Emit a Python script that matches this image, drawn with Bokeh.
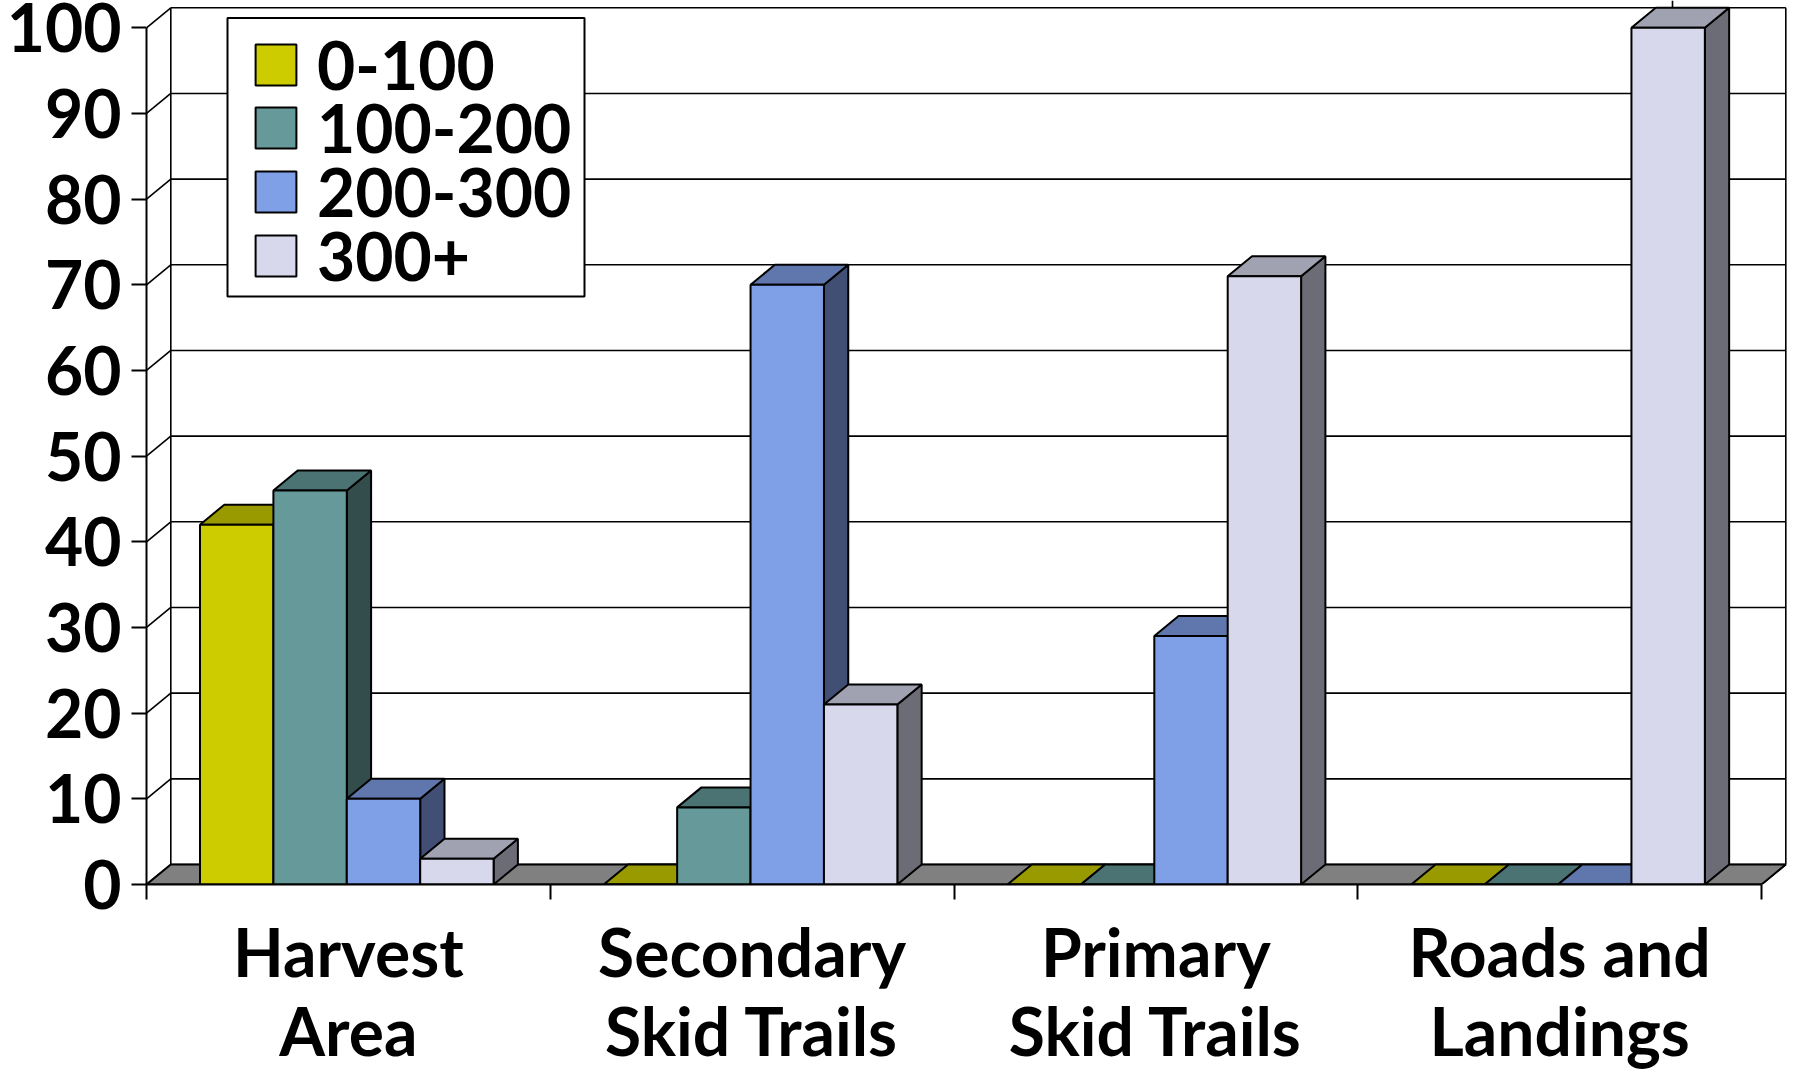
from bokeh.plotting import figure
from bokeh.models import FixedTicker, Legend, LegendItem, ColumnDataSource, Range1d, BoxAnnotation
from bokeh.embed import file_html
from bokeh.resources import INLINE

categories = ["Harvest\nArea", "Secondary\nSkid Trails", "Primary\nSkid Trails", "Roads and\nLandings"]
series_names = ["0-100", "100-200", "200-300", "300+"]
values_0_100 = [42, 0, 0, 0]
values_100_200 = [46, 9, 0, 0]
values_200_300 = [10, 70, 29, 0]
values_300_plus = [3, 21, 71, 100]
y_ticks = [0, 10, 20, 30, 40, 50, 60, 70, 80, 90, 100]

front_colors = ["#CCCC00", "#669999", "#7F9FE6", "#D7D8EC"]
top_colors = ["#999900", "#4C7373", "#5F77AD", "#A1A2B1"]
side_colors = ["#666600", "#334D4D", "#404F73", "#6C6C76"]

FONT = "Lato"
FS = "66px"
X0, X1, Y0, Y100, W, H = 146, 1761, 884, 27.3, 1800, 1069
px_x = (X1 - X0) / 4
px_y = (Y0 - Y100) / 100
DX = 24.3 / px_x
DY = 20 / px_y
OFFSET = 53.5 / px_x
BAR = 73.4 / px_x

p = figure(width=W, height=H, frame_width=1790 - X0, frame_height=Y0,
           x_range=Range1d(0, (1790 - X0) / px_x), y_range=Range1d(0, Y0 / px_y),
           output_backend="svg", toolbar_location=None,
           min_border_left=X0, min_border_right=10, min_border_top=0, min_border_bottom=H - Y0)
p.outline_line_color = None
p.grid.visible = False

n = len(categories)
# back wall and left wall
p.segment([DX] * len(y_ticks), [t + DY for t in y_ticks], [n + DX] * len(y_ticks), [t + DY for t in y_ticks],
          line_color="black", line_width=1.6)
p.segment([0] * len(y_ticks), y_ticks, [DX] * len(y_ticks), [t + DY for t in y_ticks],
          line_color="black", line_width=1.6)
top = y_ticks[-1]
p.segment([DX, n + DX, n], [DY, DY, 0], [DX, n + DX, n + DX], [top + DY, top + DY, DY], line_color="black", line_width=1.6)
# short stray line above the back wall, seen in the source chart
stray_x = (1672 - X0) / px_x
p.segment([stray_x], [top + DY], [stray_x], [Y0 / px_y], line_color="black", line_width=1.6)
# floor
p.patch([0, n, n + DX, DX], [0, 0, DY, DY], fill_color="#808080", line_color="black", line_width=2)

legend_items = []
all_series = [values_0_100, values_100_200, values_200_300, values_300_plus]
for s, vals in enumerate(all_series):
    lefts = [c + OFFSET + s * BAR for c in range(n)]
    rights = [l + BAR for l in lefts]
    tx = [[l, r, r + DX, l + DX] for l, r in zip(lefts, rights)]
    ty = [[v, v, v + DY, v + DY] for v in vals]
    sx = [[r, r + DX, r + DX, r] for r in rights]
    sy = [[0, DY, v + DY, v] for v in vals]
    p.patches(sx, sy, fill_color=side_colors[s], line_color="black", line_width=2)
    p.patches(tx, ty, fill_color=top_colors[s], line_color="black", line_width=2)
    src = ColumnDataSource(dict(left=lefts, right=rights, top=vals, bottom=[0] * n))
    r = p.quad(left="left", right="right", top="top", bottom="bottom", source=src,
               fill_color=front_colors[s], line_color="black", line_width=2)
    legend_items.append(LegendItem(label=series_names[s], renderers=[r]))

# y axis
ya = p.yaxis[0]
ya.ticker = FixedTicker(ticks=y_ticks)
ya.bounds = (0, top)
ya.major_tick_in = 0
ya.major_tick_out = 15
ya.minor_tick_line_color = None
ya.major_tick_line_width = 2
ya.axis_line_width = 2
ya.major_label_standoff = 10
ya.major_label_text_font = FONT
ya.major_label_text_font_size = FS
ya.major_label_text_font_style = "bold"
ya.major_label_text_color = "black"

# x axis
xa = p.xaxis[0]
mids = [c + 0.5 for c in range(n)]
xa.ticker = FixedTicker(ticks=mids, minor_ticks=list(range(n + 1)))
xa.bounds = (0, n)
xa.major_label_overrides = {m: c for m, c in zip(mids, categories)}
xa.major_tick_line_color = None
xa.minor_tick_in = 0
xa.minor_tick_out = 15
xa.minor_tick_line_width = 2
xa.axis_line_width = 2
xa.major_label_standoff = 12
xa.major_label_text_font = FONT
xa.major_label_text_font_size = FS
xa.major_label_text_font_style = "bold"
xa.major_label_text_color = "black"
xa.major_label_text_line_height = 1.0

box = BoxAnnotation(left=227 - X0, right=584 - X0, top=Y0 - 17.5, bottom=Y0 - 296,
                    left_units="screen", right_units="screen", top_units="screen", bottom_units="screen",
                    fill_color="white", fill_alpha=1, line_color="black", line_width=2, line_alpha=1)
p.add_layout(box)
# one legend per row: a single Legend's row pitch cannot go below its text height
row_centers = [64.5, 128, 192, 255.5]
for item, cy in zip(legend_items, row_centers):
    legend = Legend(items=[item], location=(250 - X0, round(Y0 - cy - 39.3)), orientation="vertical",
                    label_text_font=FONT, label_text_font_size=FS, label_text_font_style="bold",
                    label_text_color="black", glyph_width=51, glyph_height=51, label_standoff=16,
                    spacing=0, padding=0, margin=0, border_line_color=None,
                    background_fill_alpha=0)
    p.add_layout(legend, "center")

open("out.html", "w").write(file_html(p, INLINE))
